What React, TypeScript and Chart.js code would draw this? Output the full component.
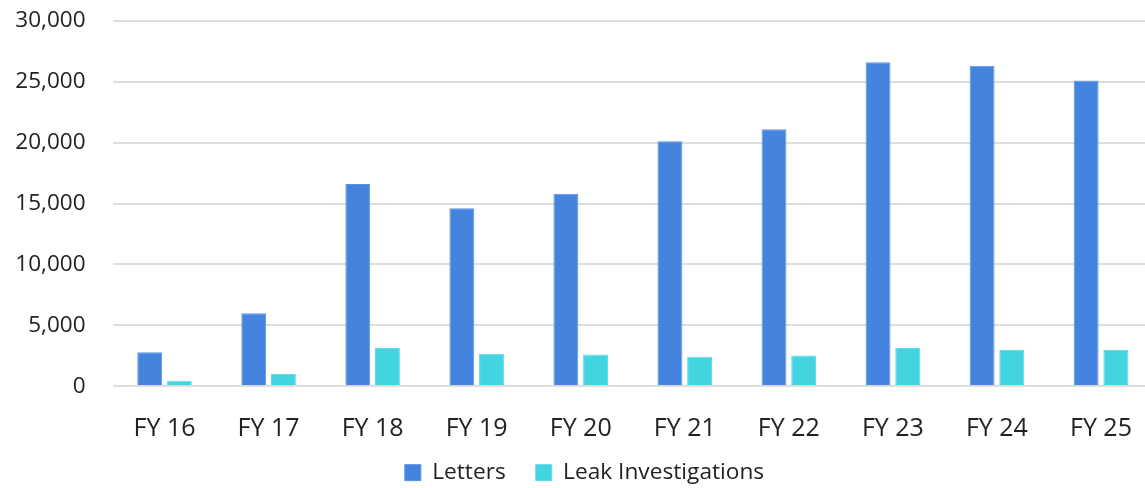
import React, { useEffect, useRef } from "react";
import { Chart, registerables } from "chart.js";

Chart.register(...registerables);

const categories = ["FY 16", "FY 17", "FY 18", "FY 19", "FY 20", "FY 21", "FY 22", "FY 23", "FY 24", "FY 25"];
const letters = [2800, 6000, 16600, 14600, 15800, 20100, 21100, 26600, 26300, 25100];
const leakInvestigations = [450, 1000, 3150, 2680, 2600, 2420, 2520, 3150, 2980, 2980];
const yTicks = [0, 5000, 10000, 15000, 20000, 25000, 30000];

const FONT = "'Open Sans', 'Noto Sans', sans-serif";
const X_SHRINK = 40;

const layoutTweaks = {
  id: "layoutTweaks",
  afterLayout(chart: any) {
    if (chart.legend) {
      chart.legend.left += 8;
      chart.legend.right += 8;
    }
    const x = chart.scales.x;
    if (x) {
      x.bottom += X_SHRINK;
      x.height += X_SHRINK;
    }
  },
};

export default function App() {
  const ref = useRef<HTMLCanvasElement | null>(null);

  useEffect(() => {
    document.body.style.margin = "0";
    document.body.style.overflow = "hidden";
    if (!ref.current) return;
    const chart = new Chart(ref.current, {
      type: "bar",
      data: {
        labels: categories,
        datasets: [
          {
            label: "Letters",
            data: letters,
            backgroundColor: "#4483DE",
            borderColor: "#5B93E3",
            borderWidth: 1,
            barPercentage: 0.84,
            categoryPercentage: 0.57,
          },
          {
            label: "Leak Investigations",
            data: leakInvestigations,
            backgroundColor: "#42D5E1",
            borderColor: "#5EDCE6",
            borderWidth: 1,
            barPercentage: 0.84,
            categoryPercentage: 0.57,
          },
        ],
      },
      plugins: [layoutTweaks],
      options: {
        animation: false,
        responsive: false,
        layout: { padding: { top: 20.7, right: 17, left: 0, bottom: -6 } },
        plugins: {
          legend: {
            position: "bottom",
            labels: {
              boxWidth: 16,
              boxHeight: 16,
              padding: 30,
              color: "#222",
              font: { family: FONT, size: 22.7 },
            },
          },
          tooltip: { enabled: false },
        },
        scales: {
          x: {
            grid: { display: false, drawTicks: false },
            border: { display: false },
            afterFit: (scale: any) => {
              scale.height = scale.height - X_SHRINK;
            },
            ticks: {
              color: "#222",
              padding: 27.5,
              font: { family: FONT, size: 25 },
            },
          },
          y: {
            min: 0,
            max: 30000,
            afterBuildTicks: (scale: any) => {
              scale.ticks = yTicks.map((v) => ({ value: v }));
            },
            afterFit: (scale: any) => {
              scale.width = 112.5;
            },
            grid: {
              color: "#DEDEDE",
              lineWidth: 2,
              drawTicks: true,
              tickLength: 27,
              tickColor: "rgba(0,0,0,0)",
            },
            border: { display: false },
            ticks: {
              color: "#222",
              padding: 0,
              font: { family: FONT, size: 22.5 },
              callback: (v: any) => Number(v).toLocaleString("en-US"),
            },
          },
        },
      },
    });
    return () => chart.destroy();
  }, []);

  return (
    <div style={{ width: 1170, height: 488 }}>
      <canvas ref={ref} width={1170} height={488} style={{ display: "block" }} />
    </div>
  );
}
